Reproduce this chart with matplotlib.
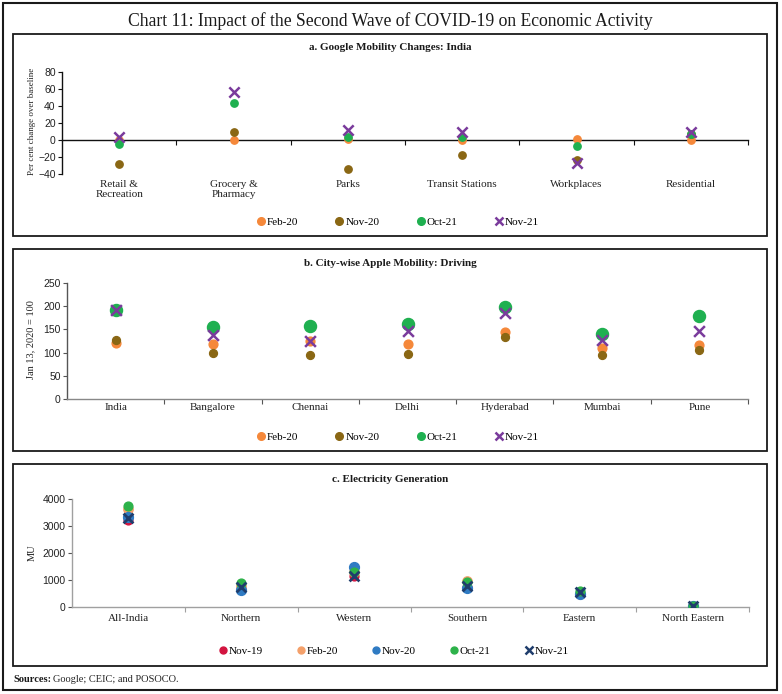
import matplotlib.pyplot as plt
import matplotlib.transforms as mtransforms
from matplotlib.patches import Rectangle
from matplotlib.lines import Line2D

# ---- data ----
google_cats = ["Retail &\nRecreation", "Grocery &\nPharmacy", "Parks",
               "Transit Stations", "Workplaces", "Residential"]
google_feb20 = [0, 0, 1, 0, 1, 0]
google_nov20 = [-28, 10, -34, -18, -24, 7]
google_oct21 = [-5, 43, 4, 3, -7, 7]
google_nov21 = [3, 57, 12, 9, -27, 10]

apple_cats = ["India", "Bangalore", "Chennai", "Delhi", "Hyderabad", "Mumbai", "Pune"]
apple_feb20 = [121, 119, 124, 118, 145, 110, 116]
apple_nov20 = [127, 100, 94, 98, 134, 94, 106]
apple_oct21 = [192, 155, 158, 162, 199, 140, 178]
apple_nov21 = [192, 137, 125, 147, 185, 127, 147]

elec_cats = ["All-India", "Northern", "Western", "Southern", "Eastern", "North Eastern"]
elec_nov19 = [3220, 650, 1150, 750, 480, 45]
elec_feb20 = [3630, 780, 1300, 950, 480, 45]
elec_nov20 = [3330, 630, 1480, 700, 500, 40]
elec_oct21 = [3740, 890, 1300, 930, 580, 50]
elec_nov21 = [3300, 740, 1150, 780, 560, 40]

SERIF = "Liberation Serif"
SANS = "Liberation Sans"
ORANGE = "#F5883A"
BROWN = "#8A6714"
GREEN = "#1FB050"
PURPLE = "#7A3B9C"
C_RED = "#D2143F"
C_ORANGE = "#F4A06A"
C_BLUE = "#2F7BC3"
C_GREEN = "#2DB24A"
C_NAVY = "#1F3D6C"

W, H = 782, 694
fig = plt.figure(figsize=(W / 100, H / 100), dpi=100)


def fx(x):
    return x / W


def fy(y):
    return 1 - y / H


def frame(x0, y0, x1, y1, lw=1.3):
    fig.add_artist(Rectangle((fx(x0), fy(y1)), (x1 - x0) / W, (y1 - y0) / H,
                             transform=fig.transFigure, fill=False,
                             ec="#1a1a1a", lw=lw))


def make_axes(x0, y0, x1, y1):
    return fig.add_axes([fx(x0), fy(y1), (x1 - x0) / W, (y1 - y0) / H])


def cat_labels(ax, cats, ytop):
    tr = mtransforms.blended_transform_factory(ax.transData, fig.transFigure)
    for i, c in enumerate(cats):
        ax.text(i, fy(ytop), c, transform=tr, ha="center", va="top",
                fontsize=8, family=SERIF, color="#222222", linespacing=1.2)


def legend(ax, handles, labels, xc, yc, colsp):
    ax.legend(handles, labels, loc="center", bbox_to_anchor=(fx(xc), fy(yc)),
              bbox_transform=fig.transFigure, ncol=len(labels), frameon=False,
              handletextpad=0.05, columnspacing=colsp, handlelength=1.0,
              prop={"family": SERIF, "size": 8})


def style(ax, ncat, spine_col, zero_spine=False):
    ax.set_xlim(-0.5, ncat - 0.5)
    for s in ["top", "right"]:
        ax.spines[s].set_visible(False)
    ax.spines["left"].set_color(spine_col)
    ax.spines["bottom"].set_color(spine_col)
    ax.spines["left"].set_linewidth(1.0)
    ax.spines["bottom"].set_linewidth(1.0)
    if zero_spine:
        ax.spines["bottom"].set_position(("data", 0))
    ax.set_xticks([i + 0.5 for i in range(ncat)])
    ax.set_xticklabels([])
    ax.tick_params(axis="x", length=3.5, width=0.8, color=spine_col, direction="out")
    ax.tick_params(axis="y", length=3, width=0.8, color=spine_col, labelsize=7.5,
                   pad=1.5, labelcolor="#222222")
    for t in ax.get_yticklabels():
        t.set_family(SANS)
    ax.patch.set_alpha(0)


# ---- frames and titles ----
frame(3, 3, 777, 690, lw=1.5)
frame(13, 34, 767, 236)
frame(13, 249, 767, 451)
frame(13, 464, 767, 666)

fig.text(fx(390), fy(21), "Chart 11: Impact of the Second Wave of COVID-19 on Economic Activity",
         ha="center", va="center", fontsize=12.7, family=SERIF, color="#1a1a1a")
fig.text(fx(390), fy(48), "a. Google Mobility Changes: India", ha="center", va="center",
         fontsize=8, family=SERIF, weight="bold", color="#1a1a1a")
fig.text(fx(390), fy(263), "b. City-wise Apple Mobility: Driving", ha="center", va="center",
         fontsize=8, family=SERIF, weight="bold", color="#1a1a1a")
fig.text(fx(390), fy(479), "c. Electricity Generation", ha="center", va="center",
         fontsize=8, family=SERIF, weight="bold", color="#1a1a1a")

# ---- panel a ----
ax = make_axes(62, 72, 748, 174)
xs = range(len(google_cats))
ax.scatter(xs, google_feb20, s=28, color=ORANGE, zorder=3)
ax.scatter(xs, google_nov20, s=28, color=BROWN, zorder=3)
ax.scatter(xs, google_oct21, s=28, color=GREEN, zorder=4)
ax.scatter(xs, google_nov21, s=55, marker="x", color=PURPLE, linewidths=1.8, zorder=5)
ax.set_ylim(-40, 80)
ax.set_yticks(range(-40, 81, 20))
style(ax, len(google_cats), "#111111", zero_spine=True)
cat_labels(ax, google_cats, 180)
fig.text(fx(32), fy(121), "Per cent change over baseline", rotation=90, ha="center",
         va="center", fontsize=6.5, family=SERIF, color="#222222")
hs = [Line2D([], [], ls="none", marker="o", ms=5.5, color=ORANGE),
      Line2D([], [], ls="none", marker="o", ms=5.5, color=BROWN),
      Line2D([], [], ls="none", marker="o", ms=5.5, color=GREEN),
      Line2D([], [], ls="none", marker="x", ms=6, mew=1.8, color=PURPLE)]
legend(ax, hs, ["Feb-20", "Nov-20", "Oct-21", "Nov-21"], 397, 222, 3.2)

# ---- panel b ----
ax = make_axes(67, 283, 748, 399)
xs = range(len(apple_cats))
ax.scatter(xs, apple_feb20, s=40, color=ORANGE, zorder=3)
ax.scatter(xs, apple_nov20, s=32, color=BROWN, zorder=3)
ax.scatter(xs, apple_oct21, s=75, color=GREEN, zorder=4)
ax.scatter(xs, apple_nov21, s=60, marker="x", color=PURPLE, linewidths=1.8, zorder=5)
ax.set_ylim(0, 250)
ax.set_yticks(range(0, 251, 50))
style(ax, len(apple_cats), "#555555")
ax.spines["bottom"].set_color("#888888")
cat_labels(ax, apple_cats, 403)
fig.text(fx(31), fy(340), "Jan 13, 2020 = 100", rotation=90, ha="center",
         va="center", fontsize=7.5, family=SERIF, color="#222222")
legend(ax, hs, ["Feb-20", "Nov-20", "Oct-21", "Nov-21"], 397, 437, 3.2)

# ---- panel c ----
ax = make_axes(72, 499, 749, 607)
xs = range(len(elec_cats))
ax.scatter(xs, elec_nov19, s=40, color=C_RED, zorder=3)
ax.scatter(xs, elec_feb20, s=45, color=C_ORANGE, zorder=3)
ax.scatter(xs, elec_nov20, s=50, color=C_BLUE, zorder=4)
ax.scatter(xs, elec_oct21, s=40, color=C_GREEN, zorder=4)
ax.scatter(xs, elec_nov21, s=50, marker="x", color=C_NAVY, linewidths=2.0, zorder=5)
ax.set_ylim(0, 4000)
ax.set_yticks(range(0, 4001, 1000))
style(ax, len(elec_cats), "#A0A0A0")
ax.tick_params(axis="y", color="#555555")
cat_labels(ax, elec_cats, 614)
fig.text(fx(32), fy(553), "MU", rotation=90, ha="center", va="center",
         fontsize=7.5, family=SERIF, color="#222222")
hs_c = [Line2D([], [], ls="none", marker="o", ms=5, color=C_RED),
        Line2D([], [], ls="none", marker="o", ms=5, color=C_ORANGE),
        Line2D([], [], ls="none", marker="o", ms=5, color=C_BLUE),
        Line2D([], [], ls="none", marker="o", ms=5, color=C_GREEN),
        Line2D([], [], ls="none", marker="x", ms=5.5, mew=1.8, color=C_NAVY)]
legend(ax, hs_c, ["Nov-19", "Feb-20", "Nov-20", "Oct-21", "Nov-21"], 393, 651, 2.9)

# ---- source ----
fig.text(fx(13), fy(679), "Sources:", ha="left", va="center", fontsize=7.5,
         family=SERIF, weight="bold", color="#1a1a1a")
fig.text(fx(53), fy(679), "Google; CEIC; and POSOCO.", ha="left", va="center",
         fontsize=7.5, family=SERIF, color="#222222")

fig.savefig("out.png", dpi=100)
